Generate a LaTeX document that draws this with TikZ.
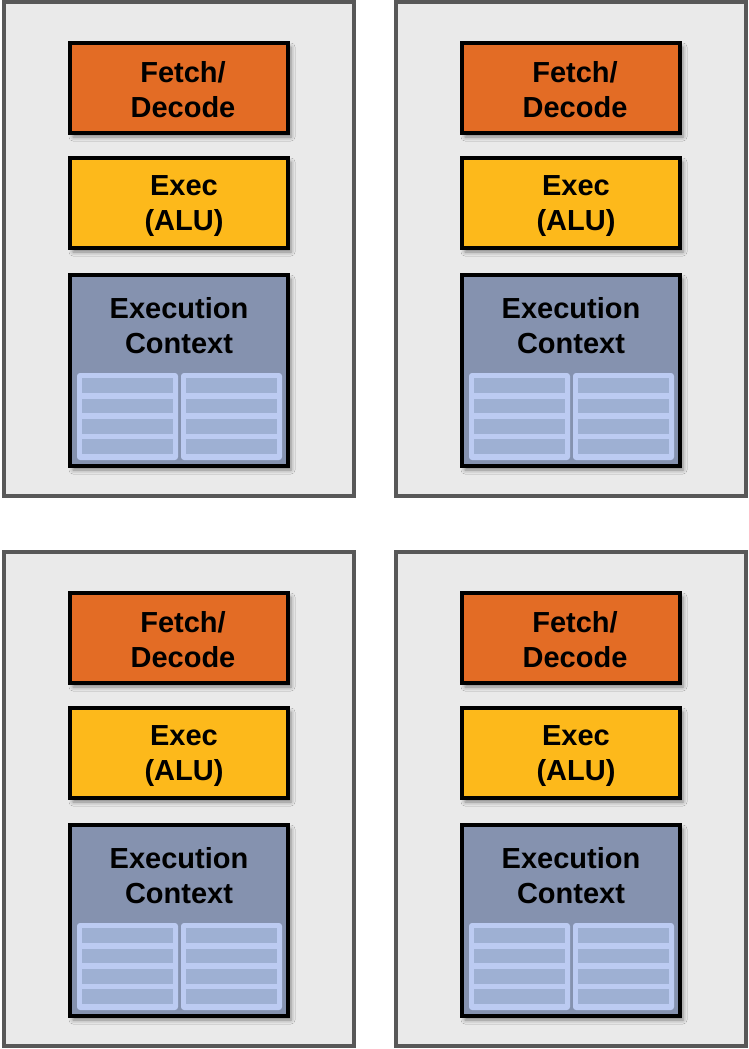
\documentclass[tikz,border=0pt]{standalone}
\usepackage{fontspec}
\setmainfont{Liberation Sans}
\usetikzlibrary{shadows.blur}
\definecolor{corebg}{HTML}{EAEAEA}
\definecolor{coreline}{HTML}{585858}
\definecolor{fetchc}{HTML}{E36C25}
\definecolor{execc}{HTML}{FDB91B}
\definecolor{ctxc}{HTML}{8592AF}
\definecolor{regbg}{HTML}{BCCBF2}
\definecolor{regcell}{HTML}{9EB0D3}
\tikzset{
  corebox/.style={draw=coreline, fill=corebg, line width=4pt, inner sep=0pt,
    minimum width=350pt, minimum height=493.5pt},
  unitbox/.style={draw=black, line width=4pt, inner sep=0pt,
    minimum width=218pt,
    blur shadow={shadow xshift=3pt, shadow yshift=-4pt, shadow blur radius=4pt, shadow opacity=45}},
  fetchbox/.style={unitbox, fill=fetchc, minimum height=90pt},
  execbox/.style={unitbox, fill=execc, minimum height=90pt},
  ctxbox/.style={unitbox, fill=ctxc, minimum height=191pt},
  boxlabel/.style={align=center, inner sep=0pt, font=\bfseries\fontsize{29}{35}\selectfont},
  reghalf/.style={fill=regbg, rounded corners=3pt, inner sep=0pt, minimum width=101pt, minimum height=87pt},
  regcellbox/.style={fill=regcell, inner sep=0pt, minimum width=91pt, minimum height=14.5pt}
}
\begin{document}
\begin{tikzpicture}[x=1pt,y=-1pt]
\useasboundingbox (0,0) rectangle (749,1049);
\foreach \n/\dx/\dy in {1/0/0,2/392/0,3/0/550,4/392/550}{
  \begin{scope}[shift={(\dx,\dy)}]
    \node[corebox] (core\n) at (179,248.75) {};
    \node[fetchbox] (fd\n) at (179,88) {};
    \node[boxlabel] (fdl\n) at (183,90) {Fetch/\\Decode};
    \node[execbox] (ex\n) at (179,203) {};
    \node[boxlabel] (exl\n) at (184,206) {Exec\\(ALU)};
    \node[ctxbox] (ctx\n) at (179,370.5) {};
    \node[boxlabel] (ctxl\n) at (179,326) {Execution\\Context};
    \node[reghalf] (rl\n) at (127.5,416.5) {};
    \node[reghalf] (rr\n) at (231.5,416.5) {};
    \foreach \r/\y in {1/385.5,2/406,3/426.5,4/446.5}{
      \node[regcellbox] (cl\n-\r) at (127.5,\y) {};
      \node[regcellbox] (cr\n-\r) at (231.5,\y) {};
    }
  \end{scope}
}
\end{tikzpicture}
\end{document}
